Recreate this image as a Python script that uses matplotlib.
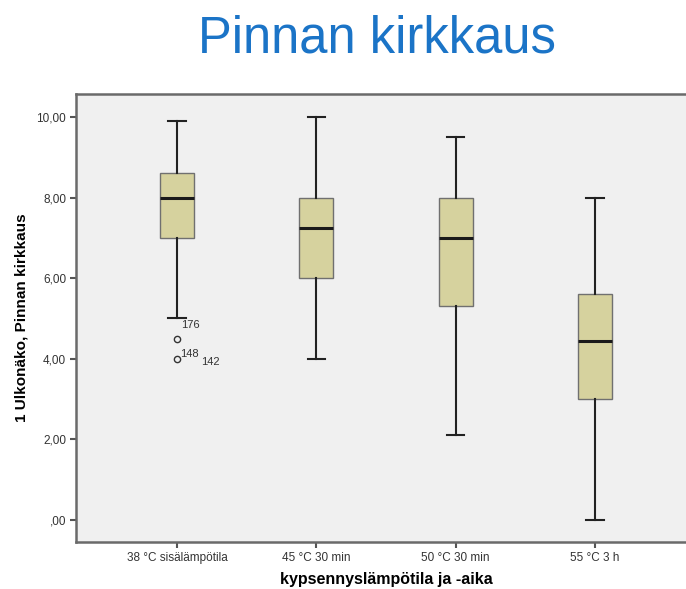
import matplotlib.pyplot as plt

# group labels and box statistics
groups = ['38 °C sisälämpötila', '45 °C 30 min', '50 °C 30 min', '55 °C 3 h']
whislo = [5.0, 4.0, 2.1, 0.0]
q1 = [7.0, 6.0, 5.3, 3.0]
med = [8.0, 7.25, 7.0, 4.45]
q3 = [8.6, 8.0, 8.0, 5.6]
whishi = [9.9, 10.0, 9.5, 8.0]
fliers = [[4.5, 4.0], [], [], []]

# labelled outliers of the first group (case numbers)
outlier_ids = ['176', '148', '142']
outlier_vals = [4.5, 4.0, 4.0]

stats = []
for i in range(len(groups)):
    stats.append(dict(label=groups[i], whislo=whislo[i], q1=q1[i], med=med[i],
                      q3=q3[i], whishi=whishi[i], fliers=fliers[i]))

plt.rcParams['font.family'] = ['Liberation Sans', 'DejaVu Sans']

fig = plt.figure(figsize=(6.86, 5.89), dpi=100)
ax = fig.add_axes([76 / 686, 47 / 589, 620 / 686, 448 / 589])
ax.set_facecolor('#f0f0f0')

ax.bxp(stats, positions=[1, 2, 3, 4], widths=0.245, patch_artist=True,
       boxprops=dict(facecolor='#d6d29e', edgecolor='#707070', linewidth=1.0),
       medianprops=dict(color='#1a1a1a', linewidth=2.2),
       whiskerprops=dict(color='#222222', linewidth=1.5),
       capprops=dict(color='#222222', linewidth=1.5),
       capwidths=0.125,
       flierprops=dict(marker='o', markersize=4.5, markerfacecolor='none',
                       markeredgecolor='#333333', markeredgewidth=1.0))

# outlier case labels
ax.text(1.03, outlier_vals[0] + 0.22, outlier_ids[0], fontsize=8, color='#333333', va='bottom')
ax.text(1.025, outlier_vals[1] + 0.0, outlier_ids[1], fontsize=8, color='#333333', va='bottom')
ax.text(1.175, outlier_vals[2] + 0.05, outlier_ids[2], fontsize=8, color='#333333', va='top')

ax.set_xlim(0.276, 4.724)
ax.set_ylim(-0.55, 10.57)
ax.set_yticks([0, 2, 4, 6, 8, 10])
ax.set_yticklabels([',00', '2,00', '4,00', '6,00', '8,00', '10,00'])
ax.set_xticks([1, 2, 3, 4])
ax.set_xticklabels(groups)
ax.tick_params(axis='y', labelsize=8.5)
ax.tick_params(axis='x', labelsize=8.5)
ax.tick_params(axis='both', colors='#555555', labelcolor='#333333',
               length=4, width=1.5, direction='out', pad=3)

for side in ['left', 'bottom', 'top']:
    ax.spines[side].set_color('#6a6a6a')
    ax.spines[side].set_linewidth(1.8)
ax.spines['right'].set_visible(False)

ax.set_xlabel('kypsennyslämpötila ja -aika', fontsize=11.5, fontweight='bold', labelpad=6)
ax.set_ylabel('1 Ulkonäko, Pinnan kirkkaus', fontsize=11, fontweight='bold', labelpad=6)

fig.text(0.55, 0.933, 'Pinnan kirkkaus', fontsize=36.5, color='#1b74c7',
         ha='center', va='center')

fig.savefig('out.png', dpi=100)
